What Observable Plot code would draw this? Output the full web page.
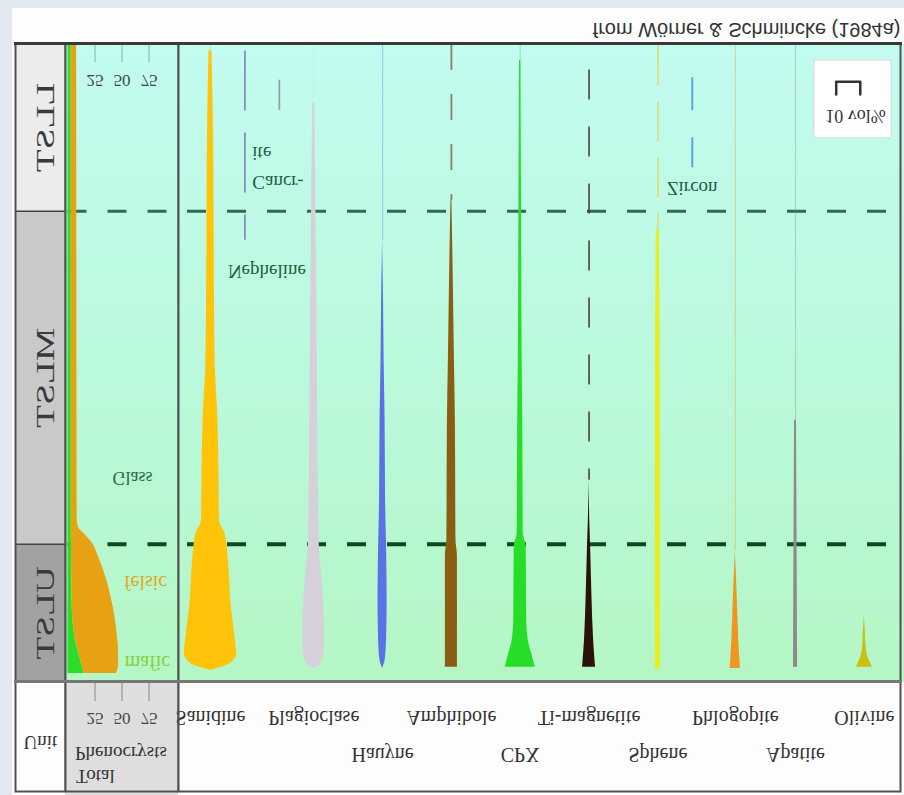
<!DOCTYPE html>
<html>
<head>
<meta charset="utf-8">
<script src="https://cdn.jsdelivr.net/npm/d3@7"></script>
<script src="https://cdn.jsdelivr.net/npm/@observablehq/plot@0.6"></script>
<style>
  html, body { margin: 0; padding: 0; background: #e2e9f1; }
  /* the sheet is drawn as a mirrored (vertically flipped) print of the section log */
  #sheet { position: relative; width: 904px; height: 795px; overflow: hidden; background: #e2e9f1; transform: scaleY(-1); }
  #panel { position: absolute; left: 12px; top: 0; width: 892px; height: 787px; background: #fdfdfd; display: flex; }
  #panel svg { display: block; overflow: visible; flex: none; }
</style>
</head>
<body>
<div id="sheet"><div id="panel"></div></div>
<script>
// ---- Stratigraphic units (relative height in the section: 0 = base, 100 = top) ----
const units = ["LLST", "MLST", "ULST"];
const unitBase = [0, 26.3, 78.5];
const unitTop = [26.3, 78.5, 100];

// ---- Total phenocrysts (vol%), stacked mafic + felsic ----
const phenoHeight = [0, 40, 74.5, 75.7, 76.6, 78.2, 80.3, 82.4, 87.6, 90.3, 92.9, 95.0, 97.3, 98.6];
const maficVol    = [3, 3, 3, 3, 3, 3.2, 3.3, 3.4, 3.8, 4.6, 6.4, 9.2, 12.9, 14.8];
const felsicVol   = [5, 5.2, 5.5, 6.7, 11.4, 19.5, 24.9, 29.5, 37.4, 39.4, 39.4, 37.6, 33.9, 30];
const phenoTicks = [25, 50, 75];

// ---- Minerals: column order and where the name is printed ----
const minerals = ["Sanidine", "Nepheline", "Cancrinite", "Plagioclase", "Hauyne", "Amphibole", "CPX",
                  "Ti-magnetite", "Sphene", "Zircon", "Phlogopite", "Apatite", "Olivine"];
const columnSlot = [0, 1, 2, 3, 5, 7, 9, 11, 13, 14, 15.25, 17, 19];
const labelRow   = [1, 0, 0, 1, 2, 1, 2, 1, 2, 0, 1, 2, 1];

// ---- Modal abundance profiles: [height, vol%] ----
const sanidine    = [[1, 1.2], [8.8, 2.1], [24.5, 2.9], [40, 3.3], [49.5, 3.8], [58.9, 6.2], [68.3, 7.1], [74.6, 7.5],
                     [76.6, 12], [78.7, 13.8], [82.4, 15.4], [87.6, 17.1], [92.9, 20.4], [95.5, 21.7], [97, 16.7], [98.1, 0]];
const plagioclase = [[9.2, 0.8], [30.7, 2.1], [49.5, 2.9], [58.9, 3.3], [78.7, 4.6], [85.1, 7.5], [92.9, 9.2],
                     [95.5, 8.3], [97.3, 5], [97.8, 0]];
const hauyne      = [[30.7, 0], [40.1, 0.8], [49.5, 1.3], [58.9, 2.1], [71.5, 2.5], [78.7, 3.3], [87.1, 3.8],
                     [93.4, 3.3], [96.6, 2.1], [97.8, 0]];
const amphibole   = [[24.5, 0.4], [33.9, 1.3], [49.5, 2.5], [58.9, 3.3], [77.7, 3.8], [80.1, 5], [97.6, 5]];
const cpx         = [[2.5, 0.6], [24.5, 1.1], [49.5, 1.6], [58.9, 2.1], [76.6, 2.5], [78.7, 5], [90.3, 5.4],
                     [93.4, 6.7], [95.8, 10], [97.6, 12.5]];
const tiMagnetite = [[68.3, 0], [74.6, 0.6], [78.7, 1.3], [87.1, 2.5], [93.4, 3.8], [97.6, 5.4]];
const sphene      = [[29.2, 1.3], [58.9, 2.1], [97.6, 2.1], [98.1, 0]];
const phlogopite  = [[79.3, 0], [87.1, 1.7], [93.4, 2.9], [97.8, 4.2]];
const apatite     = [[58.9, 0.8], [78.7, 1.3], [97.6, 1.7]];
const olivine     = [[89.5, 0], [91.8, 0.8], [95, 1.7], [96.6, 4.2], [97.6, 6.7]];

// ---- Trace occurrences (thin lines) ----
const traceMineral = ["Sanidine", "Nepheline", "Cancrinite", "Plagioclase", "Hauyne", "Amphibole", "CPX",
                      "Ti-magnetite", "Sphene", "Zircon", "Phlogopite", "Apatite"];
const traceFrom = [0, 1, 5.6, 0, 0, 0, 0, 4, 0.2, 5.2, 0, 0];
const traceTo   = [2, 30.7, 10.3, 9.2, 30.7, 24.5, 2.5, 68.3, 29.2, 19.3, 79.3, 58.9];
const traceKind = ["faint", "dashed", "solid", "faint", "faint", "dashed", "faint", "dashed", "dashed", "dashed", "faint", "faint"];

const scaleBarVol = 10;
const caption = "from Wörner & Schmincke (1984a)";

// ---- styling ----
const SERIF = "Liberation Serif, Times New Roman, serif";
const SANS = "Liberation Sans, Arial, sans-serif";
const unitColors = ["#ececec", "#c9c9c9", "#a2a2a2"];
const partColors = {mafic: "#2bdc2b", felsic: "#e6a212"};
const mineralColor = {
  Sanidine: "#ffc40a", Nepheline: "#7c7cae", Cancrinite: "#8e8e9e", Plagioclase: "#d6d0da",
  Hauyne: "#5b72e6", Amphibole: "#8a5d12", CPX: "#27dd27", "Ti-magnetite": "#2b1208",
  Sphene: "#e6ee1e", Zircon: "#3f8fd2", Phlogopite: "#f0961c", Apatite: "#8b8b8b", Olivine: "#cbbf12"
};
const traceStroke = {"Ti-magnetite": "#4a3a30", Amphibole: "#7d6e55", Sphene: "#e2dc6a"};
const dashFor = {Nepheline: "60 22", "Ti-magnetite": "30 27", Zircon: "33 27", Amphibole: "26 24", Sphene: "40 16"};
const profileOf = {Sanidine: sanidine, Plagioclase: plagioclase, Hauyne: hauyne, Amphibole: amphibole, CPX: cpx,
                   "Ti-magnetite": tiMagnetite, Sphene: sphene, Phlogopite: phlogopite, Apatite: apatite, Olivine: olivine};

const H = 787, MT = 113, MB = 36;
const SPACING = 14.3; // vol% between neighbouring mineral columns
const bg = (header) => `linear-gradient(to bottom, ${header} 0px, ${header} ${MT}px, #b5f6c5 ${MT}px, #bbf9dc ${(H - MB + MT) / 2}px, #c2fbf0 ${H - MB}px, #fdfdfd ${H - MB}px)`;
const boundaries = [
  {y: unitTop[0], stroke: "#2e6c50", width: 3},
  {y: unitTop[1], stroke: "#0d481e", width: 4}
];
const boxFrame = (extra = {}) => Plot.frame({stroke: "#505050", strokeWidth: 2, insetTop: -(MT - 3), ...extra});

// ---- Unit column ----
const unitPlot = Plot.plot({
  width: 53, height: H, marginLeft: 3, marginRight: 0, marginTop: MT, marginBottom: MB,
  x: {domain: [0, 1], axis: null}, y: {domain: [0, 100], axis: null},
  color: {type: "identity"},
  style: {background: "#fdfdfd", fontFamily: SERIF, overflow: "visible"},
  marks: [
    Plot.rect(units, {x1: 0, x2: 1, y1: (d, i) => unitBase[i], y2: (d, i) => unitTop[i], fill: (d, i) => unitColors[i]}),
    Plot.ruleY(unitTop.slice(0, 2), {stroke: "#444", strokeWidth: 1.5}),
    Plot.text(units, {x: 0.6, y: (d, i) => (unitBase[i] + unitTop[i]) / 2, text: d => d, rotate: -90,
      fontSize: 25, fill: "#3a3a3a"}),
    Plot.text(["Unit"], {frameAnchor: "top", dy: -68, text: d => d, fontSize: 19, fill: "#333"}),
    boxFrame(),
    Plot.frame({anchor: "top", stroke: "#777", strokeWidth: 3}),
    Plot.frame({anchor: "bottom", stroke: "#3a3a3a", strokeWidth: 3})
  ]
});
// unit names are set in an extended (stretched) face along the column
d3.select(unitPlot).selectAll("text")
  .filter(function() { return units.includes(this.textContent); })
  .attr("transform", function() { return `${this.getAttribute("transform") || ""} scale(1.5,1)`; });

// ---- Total phenocrysts column ----
const phenoRows = phenoHeight.flatMap((h, i) => [
  {h, part: "mafic", v: maficVol[i]},
  {h, part: "felsic", v: felsicVol[i]}
]);
const totalPlot = Plot.plot({
  width: 113, height: H, marginLeft: 2.5, marginRight: 2.5, marginTop: MT, marginBottom: MB,
  x: {domain: [0, 100], axis: null}, y: {domain: [0, 100], axis: null},
  color: {domain: ["mafic", "felsic"], range: [partColors.mafic, partColors.felsic]},
  style: {background: bg("#dedede"), fontFamily: SERIF, overflow: "visible"},
  marks: [
    ...boundaries.map(b => Plot.ruleY([b.y], {stroke: b.stroke, strokeWidth: b.width, strokeDasharray: "19 21", strokeDashoffset: 0})),
    Plot.areaX(phenoRows, Plot.stackX({y: "h", x: "v", z: "part", fill: "part", order: ["mafic", "felsic"], curve: "monotone-y"})),
    Plot.text(["Glass"], {x: 59.7, y: 68, text: d => d, fontSize: 18, fill: "#2a6a40"}),
    Plot.text(["felsic"], {x: 71.8, y: 84.5, text: d => d, fontSize: 20, fill: "#e0a830"}),
    Plot.text(["mafic"], {x: 73.6, y: 97, text: d => d, fontSize: 20, fill: "#86cf3e"}),
    Plot.axisX({anchor: "top", ticks: phenoTicks, tickSize: 20, tickPadding: 11, fontSize: 17, color: "#444", stroke: "#888", label: null}),
    Plot.axisX({anchor: "bottom", ticks: phenoTicks, tickSize: -18, tickPadding: -26, fontSize: 17, color: "#444", stroke: "#8aa", label: null}),
    Plot.text(["Total"], {frameAnchor: "top-left", dx: 8, dy: -102, textAnchor: "start", text: d => d, fontSize: 19, fill: "#333"}),
    Plot.text(["Phenocrysts"], {frameAnchor: "top-left", dx: 7, dy: -79, textAnchor: "start", text: d => d, fontSize: 19, fill: "#333"}),
    boxFrame({insetLeft: -2.5, insetRight: -2.5}),
    Plot.frame({anchor: "top", stroke: "#777", strokeWidth: 3, insetLeft: -2.5, insetRight: -2.5}),
    Plot.frame({anchor: "bottom", stroke: "#3a3a3a", strokeWidth: 3, insetLeft: -2.5, insetRight: -2.5})
  ]
});

// ---- Mineral columns ----
const centre = m => columnSlot[minerals.indexOf(m)] * SPACING;
const shapeMarks = Object.keys(profileOf).map(m => Plot.areaX(profileOf[m], {
  y: d => d[0],
  x1: d => centre(m) - d[1] / 2,
  x2: d => centre(m) + d[1] / 2,
  fill: mineralColor[m],
  curve: "monotone-y"
}));
const traceMarks = traceMineral.map((m, i) => {
  const kind = traceKind[i];
  return Plot.ruleX([m], {
    x: centre(m), y1: traceFrom[i], y2: traceTo[i],
    stroke: traceStroke[m] || mineralColor[m],
    strokeWidth: kind === "faint" ? 1.2 : 1.8,
    strokeOpacity: kind === "faint" ? 0.35 : 0.85,
    strokeDasharray: kind === "dashed" ? dashFor[m] : null
  });
});
const labelled = minerals.filter((m, i) => labelRow[i] > 0);
const rowOf = m => labelRow[minerals.indexOf(m)];
const barAt = 260; // left end of the 10 vol% scale bar
const mineralPlot = Plot.plot({
  width: 726, height: H, marginLeft: 0, marginRight: 4, marginTop: MT, marginBottom: MB,
  x: {domain: [-0.93 * SPACING, 20.05 * SPACING], axis: null}, y: {domain: [0, 100], axis: null},
  style: {background: bg("#fdfdfd"), fontFamily: SERIF, overflow: "visible"},
  marks: [
    ...boundaries.map(b => Plot.ruleY([b.y], {stroke: b.stroke, strokeWidth: b.width, strokeDasharray: "19 21", strokeDashoffset: 31})),
    ...traceMarks,
    ...shapeMarks,
    // names printed inside the panel
    Plot.text(["Cancr-\nite"], {x: centre("Cancrinite"), y: 19.95, dx: -27, textAnchor: "start", lineHeight: 1.5,
      text: d => d, fontSize: 19, fill: "#1f5e3e"}),
    Plot.text(["Nepheline"], {x: centre("Nepheline"), y: 35.6, dx: 22, text: d => d, fontSize: 19, fill: "#1f5e3e"}),
    Plot.text(["Zircon"], {x: centre("Zircon"), y: 22.7, text: d => d, fontSize: 19, fill: "#1f5e3e"}),
    // column names
    Plot.text(labelled.filter(m => rowOf(m) === 1), {x: centre, frameAnchor: "top", dy: -44, text: d => d, fontSize: 20, fill: "#333"}),
    Plot.text(labelled.filter(m => rowOf(m) === 2), {x: centre, frameAnchor: "top", dy: -81, text: d => d, fontSize: 20, fill: "#333"}),
    // scale bar
    Plot.rect([scaleBarVol], {x1: barAt - 9, x2: barAt + 23, y1: 2.5, y2: 14.7, fill: "white", stroke: "#d8d8d8"}),
    Plot.line([[barAt, 8], [barAt, 6], [barAt + scaleBarVol, 6], [barAt + scaleBarVol, 8]],
      {x: d => d[0], y: d => d[1], stroke: "#333", strokeWidth: 2.5}),
    Plot.text([scaleBarVol], {x: barAt + 8, y: 11.4, text: d => `${d} vol%`, fontSize: 18, fill: "#333"}),
    Plot.text([caption], {frameAnchor: "bottom-right", dy: 21, textAnchor: "end", text: d => d,
      fontFamily: SANS, fontSize: 20, fill: "#333"}),
    boxFrame(),
    Plot.frame({anchor: "top", stroke: "#777", strokeWidth: 3}),
    Plot.frame({anchor: "bottom", stroke: "#3a3a3a", strokeWidth: 3})
  ]
});

const panel = document.getElementById("panel");
panel.append(unitPlot, totalPlot, mineralPlot);
</script>
</body>
</html>
